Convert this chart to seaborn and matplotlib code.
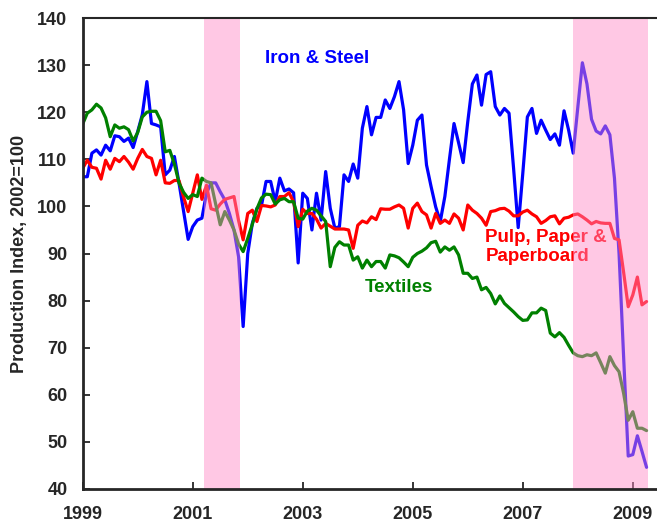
import numpy as np
import pandas as pd
import matplotlib
matplotlib.use("Agg")
import matplotlib.pyplot as plt
import seaborn as sns

# Monthly production index (2002=100), Jan 1999 - Apr 2009
iron_steel = [
    106.3, 106.3, 111.3, 112.0, 110.9, 113.0, 111.8, 115.0, 114.8, 113.8, 114.5, 112.5,
    115.9, 119.5, 126.5, 117.6, 117.3, 116.9, 106.7, 107.7, 110.6, 105.0, 99.0, 93.0,
    95.7, 97.1, 97.5, 102.8, 105.0, 105.0, 103.1, 101.4, 98.5, 95.0, 89.3, 74.5,
    90.0, 96.4, 99.6, 100.2, 105.3, 105.3, 101.0, 106.0, 103.3, 103.7, 102.9, 88.0,
    102.8, 101.7, 95.0, 102.8, 97.1, 107.4, 99.6, 95.4, 95.7, 106.7, 105.3, 109.0,
    106.0, 116.6, 121.2, 115.2, 118.9, 118.9, 122.6, 120.8, 123.3, 126.5, 120.5, 109.1,
    113.0, 118.3, 119.4, 108.8, 104.2, 99.9, 96.8, 102.1, 110.0, 117.6, 113.5, 109.3,
    118.0, 126.0, 127.9, 121.5, 128.0, 128.6, 121.2, 119.4, 120.8, 119.8, 108.0, 95.5,
    107.0, 119.0, 120.8, 115.5, 118.3, 116.2, 114.2, 115.4, 113.0, 120.3, 116.2, 111.3,
    121.0, 130.5, 126.0, 118.5, 116.0, 115.4, 117.1, 115.2, 106.0, 90.0, 68.0, 47.0,
    47.3, 51.3, 48.0, 44.6,
]
pulp_paper = [
    108.1, 109.8, 108.3, 108.1, 105.8, 109.8, 107.9, 110.2, 109.5, 110.6, 109.4, 107.9,
    110.2, 112.1, 110.6, 110.2, 106.7, 109.8, 105.0, 104.9, 105.5, 105.5, 102.0, 98.9,
    102.8, 106.7, 101.5, 104.5, 99.5, 99.2, 100.5, 101.5, 101.8, 102.1, 97.0, 92.9,
    98.5, 99.2, 96.8, 100.2, 100.1, 99.9, 100.3, 102.1, 102.1, 102.9, 101.0, 95.7,
    99.4, 98.5, 98.5, 97.3, 95.4, 96.4, 95.8, 95.2, 95.2, 95.2, 95.0, 91.1,
    96.0, 96.9, 96.5, 97.8, 97.2, 99.5, 99.4, 99.4, 99.9, 100.3, 99.6, 95.4,
    99.6, 100.7, 98.9, 98.2, 95.4, 98.5, 96.4, 97.1, 96.4, 98.4, 97.5, 95.0,
    100.3, 99.2, 98.5, 97.5, 96.0, 98.9, 99.1, 99.5, 99.6, 99.0, 98.0, 98.0,
    98.8, 99.2, 98.4, 97.8, 96.4, 97.0, 97.8, 98.0, 96.3, 97.5, 97.7, 98.2,
    98.4, 97.8, 97.1, 96.3, 96.8, 96.5, 96.4, 96.4, 93.2, 92.9, 86.0, 78.7,
    81.2, 85.0, 79.1, 79.8,
]
textiles = [
    117.5, 119.8, 120.5, 121.7, 120.9, 118.8, 114.8, 117.3, 116.6, 116.9, 116.3, 113.9,
    115.7, 119.0, 120.0, 120.2, 120.2, 118.2, 111.6, 111.9, 109.0, 105.0, 103.0, 101.7,
    102.5, 102.1, 106.0, 105.3, 105.0, 100.5, 96.1, 98.9, 97.1, 95.0, 92.0, 90.4,
    93.2, 96.2, 99.5, 101.8, 102.6, 102.5, 100.5, 101.4, 101.7, 101.0, 101.0, 97.5,
    97.3, 99.0, 99.6, 99.2, 98.0, 96.8, 87.2, 91.3, 92.5, 91.8, 91.8, 88.6,
    89.3, 86.9, 88.6, 87.2, 88.3, 88.3, 86.9, 89.7, 89.5, 89.1, 88.2, 87.2,
    89.2, 90.0, 90.5, 91.2, 92.3, 92.6, 90.3, 91.4, 90.7, 91.4, 89.7, 85.8,
    85.8, 84.7, 85.0, 82.3, 82.8, 81.5, 79.3, 81.0, 79.4, 78.5, 77.6, 76.6,
    75.8, 75.9, 77.4, 77.4, 78.4, 77.9, 73.1, 72.3, 73.2, 72.2, 70.5, 68.9,
    68.3, 68.1, 68.5, 68.3, 68.9, 66.8, 64.6, 68.1, 66.2, 64.9, 60.3, 54.6,
    56.4, 52.9, 52.9, 52.4,
]
series_names = ["Iron & Steel", "Pulp, Paper & Paperboard", "Textiles"]
series_colors = ["#0000FF", "#FF0000", "#008000"]
recessions = [(2001.21, 2001.86), (2007.917, 2009.28)]
year_ticks = [1999, 2001, 2003, 2005, 2007, 2009]
value_ticks = [40, 50, 60, 70, 80, 90, 100, 110, 120, 130, 140]

years = 1999 + np.arange(len(iron_steel)) / 12
df = pd.DataFrame({
    "year": np.tile(years, 3),
    "index": iron_steel + pulp_paper + textiles,
    "series": np.repeat(series_names, len(years)),
})

sns.set_style("ticks")
plt.rcParams["font.family"] = ["Liberation Sans", "DejaVu Sans"]
plt.rcParams["font.weight"] = "bold"

fig = plt.figure(figsize=(6.57, 5.24), dpi=100)
ax = fig.add_axes([0.1259, 0.0668, 0.8741, 0.8988])

sns.lineplot(data=df, x="year", y="index", hue="series", hue_order=series_names,
             palette=series_colors, linewidth=2.3, legend=False, ax=ax)

# labels on the lines
ax.text(2002.31, 131.5, "Iron & Steel", color="#0000FF", fontsize=13.5,
        fontweight="bold", ha="left", va="center")
ax.text(2004.13, 82.7, "Textiles", color="#008000", fontsize=13.5,
        fontweight="bold", ha="left", va="center")
ax.text(2006.32, 91.3, "Pulp, Paper &\nPaperboard", color="#FF0000", fontsize=13.5,
        fontweight="bold", ha="left", va="center", linespacing=1.15)

# recession bands drawn over the lines
for start, end in recessions:
    ax.axvspan(start, end, color=(1.0, 0.54, 0.78), alpha=0.47, lw=0, zorder=4)

ax.set_xlim(1999, 2009.44)
ax.set_ylim(40, 140)
ax.set_xticks(year_ticks)
ax.set_xticklabels([str(y) for y in year_ticks])
ax.set_yticks(value_ticks)
ax.tick_params(direction="in", length=5, width=1.3, labelsize=13)
ax.tick_params(axis="y", pad=11)
ax.tick_params(axis="x", pad=12)
for lab in ax.get_xticklabels() + ax.get_yticklabels():
    lab.set_fontweight("bold")
ax.set_xlabel("")
ax.set_ylabel("Production Index, 2002=100", fontsize=13, fontweight="bold")
ax.yaxis.set_label_coords(-0.095, 0.5)

ax.spines["right"].set_visible(False)
ax.spines["left"].set_linewidth(2)
ax.spines["bottom"].set_linewidth(2)
ax.spines["top"].set_linewidth(1.5)
for sp in ax.spines.values():
    sp.set_zorder(6)

fig.savefig("out.png", dpi=100)
